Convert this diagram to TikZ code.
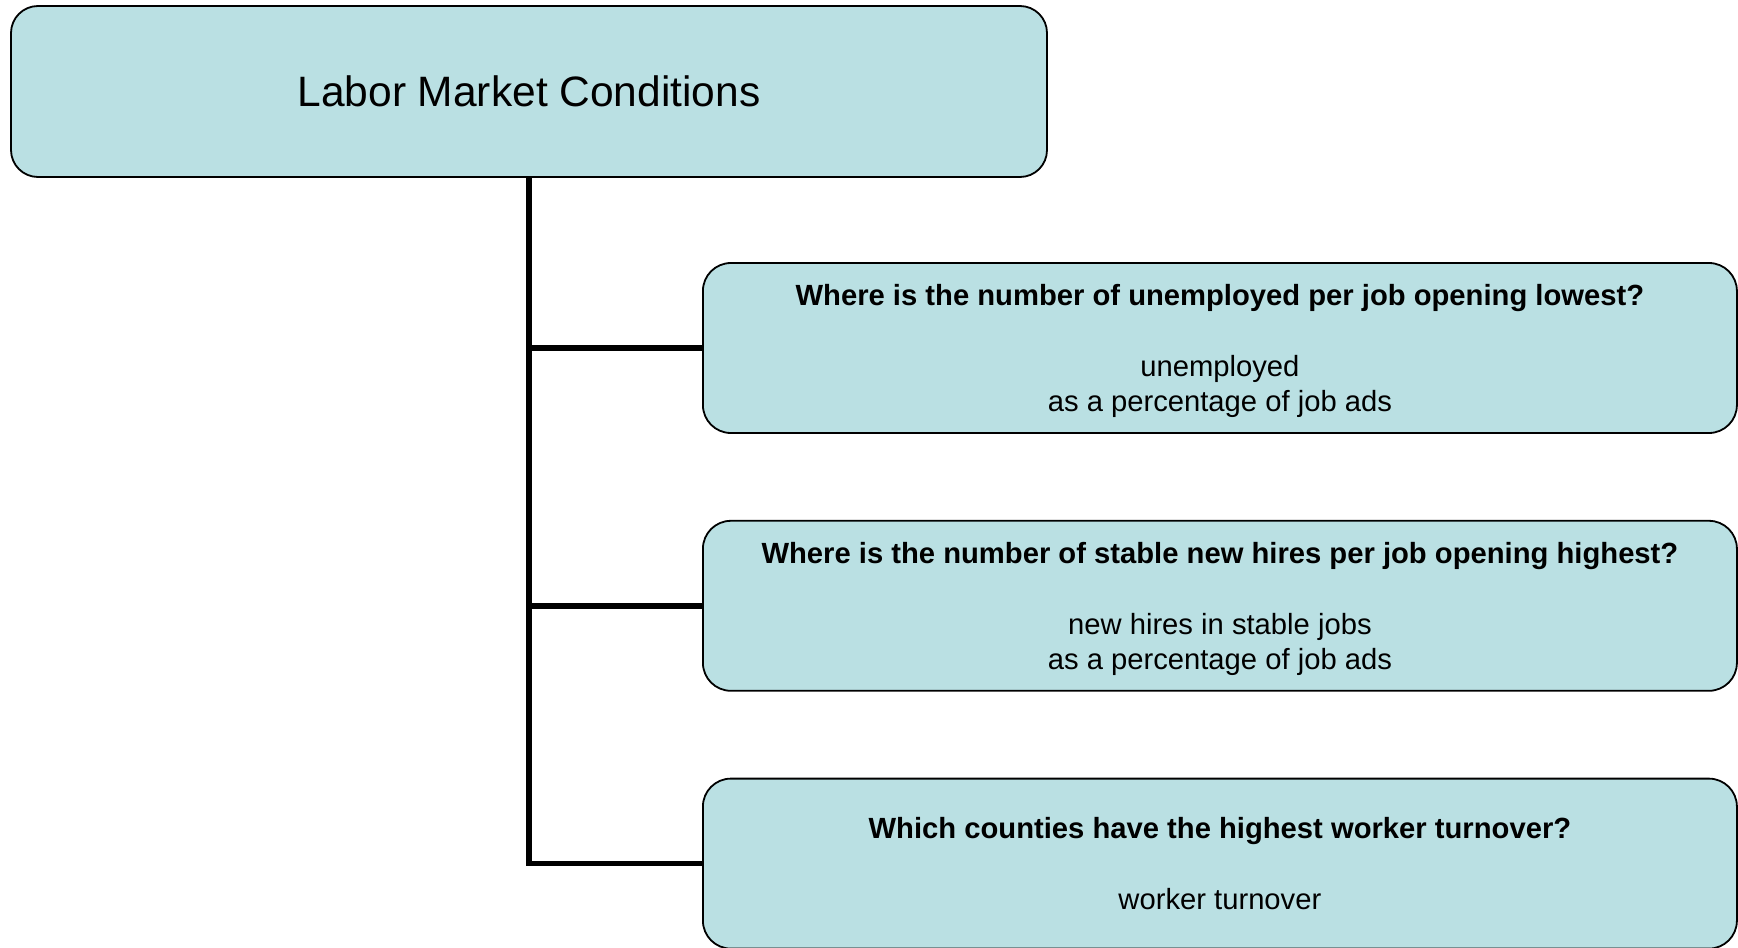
\documentclass[tikz,border=0pt]{standalone}
\usepackage{fontspec}
\setmainfont{Liberation Sans}
\usepackage{tikz}
\usetikzlibrary{positioning,shapes}
\definecolor{boxfill}{RGB}{186,224,227}
\tikzstyle{topic}=[rectangle, rounded corners=13.5pt, draw=black, line width=0.9pt, fill=boxfill, text centered, text=black, minimum width=518pt, minimum height=85.5pt, font=\fontsize{21.25}{25}\selectfont]
\tikzstyle{question}=[rectangle, rounded corners=14pt, draw=black, line width=0.9pt, fill=boxfill, align=center, text=black, text depth=0pt, minimum width=517pt, minimum height=85pt, font=\fontsize{14.6}{17.7}\selectfont]
\tikzstyle{branch}=[draw=black, line width=2.7pt, line join=miter]

\begin{document}
\begin{tikzpicture}[x=0.5pt, y=-0.5pt]

        \useasboundingbox (0,0) rectangle (1738,947);

        \node(market)[topic] at (529,91.5) {Labor Market Conditions};

        \node(q1)[question, anchor=west] at (702,348) {\textbf{Where is the number of unemployed per job opening lowest?}\\[17.7pt] unemployed\\ as a percentage of job ads};
        \node(q2)[question, below=43pt of q1] {\textbf{Where is the number of stable new hires per job opening highest?}\\[17.7pt] new hires in stable jobs\\ as a percentage of job ads};
        \node(q3)[question, below=43pt of q2] {\textbf{Which counties have the highest worker turnover?}\\[17.7pt] worker turnover};

        \foreach \q in {q1,q2,q3}{
            \draw [branch] (market.south) |- (\q.west);
        };

    \end{tikzpicture}
\end{document}
